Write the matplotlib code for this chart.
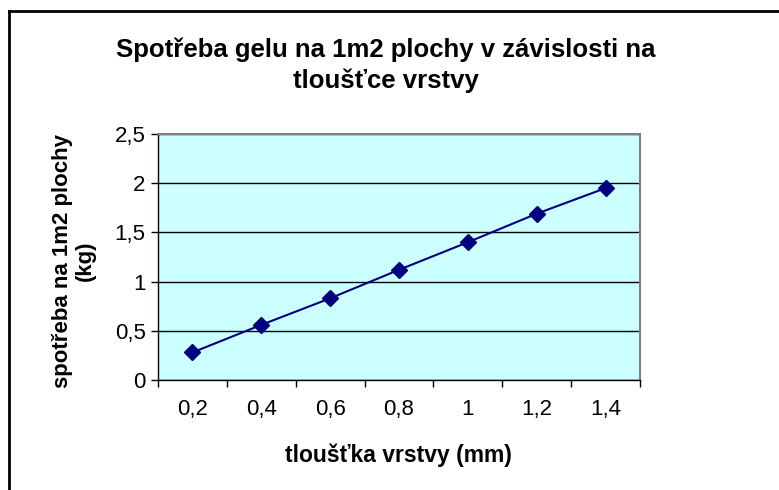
import matplotlib
matplotlib.use("Agg")
import matplotlib.pyplot as plt
from matplotlib.lines import Line2D
from matplotlib.ticker import FixedLocator, NullFormatter

categories = ["0,2", "0,4", "0,6", "0,8", "1", "1,2", "1,4"]
values = [0.28, 0.56, 0.83, 1.12, 1.40, 1.69, 1.95]
yticks = [0, 0.5, 1, 1.5, 2, 2.5]
ytick_labels = ["0", "0,5", "1", "1,5", "2", "2,5"]

plt.rcParams['font.family'] = ['Liberation Sans', 'DejaVu Sans']

fig = plt.figure(figsize=(7.79, 4.9), dpi=100)
ax = fig.add_axes([158/779, 1-380/490, (640-158)/779, (380-134)/490])
ax.set_facecolor('#CCFFFF')

x = list(range(len(categories)))
ax.plot(x, values, color='#000080', linewidth=1.5, marker='D', markersize=8,
        markerfacecolor='#000080', markeredgecolor='#000080', zorder=3)

ax.set_xlim(-0.5, len(categories) - 0.5)
ax.set_ylim(0, 2.5)
ax.set_yticks(yticks)
ax.set_yticklabels(ytick_labels, fontsize=16)
ax.set_xticks(x)
ax.set_xticklabels(categories, fontsize=16)
ax.tick_params(axis='x', which='major', length=0, pad=14)
ax.xaxis.set_minor_locator(FixedLocator([i - 0.5 for i in range(len(categories) + 1)]))
ax.xaxis.set_minor_formatter(NullFormatter())
ax.tick_params(axis='x', which='minor', length=5, direction='out', color='black', width=1)
ax.tick_params(axis='y', length=5, direction='out', color='black', width=1, pad=4)

ax.yaxis.grid(True, color='black', linewidth=1)
ax.set_axisbelow(True)
for s in ['top', 'right']:
    ax.spines[s].set_color('#808080')
    ax.spines[s].set_linewidth(1.5)
for s in ['left', 'bottom']:
    ax.spines[s].set_color('black')
    ax.spines[s].set_linewidth(1)

fig.text(386/779, 1-65/490, "Spotřeba gelu na 1m2 plochy v závislosti na\ntloušťce vrstvy",
         ha='center', va='center', fontsize=18.5, fontweight='bold', linespacing=1.32)
fig.text(398/779, 1-455/490, "tloušťka vrstvy (mm)", ha='center', va='center',
         fontsize=16.5, fontweight='bold')
fig.text(74/779, 1-261/490, "spotřeba na 1m2 plochy\n(kg)", ha='center', va='center',
         rotation=90, fontsize=16, fontweight='bold', linespacing=1.1)

fig.add_artist(Line2D([8.5/779, 8.5/779], [0, 1-11.5/490], transform=fig.transFigure,
                      color='black', linewidth=2))
fig.add_artist(Line2D([8.5/779, 1], [1-11.5/490, 1-11.5/490], transform=fig.transFigure,
                      color='black', linewidth=2))

fig.savefig("out.png", dpi=100)
